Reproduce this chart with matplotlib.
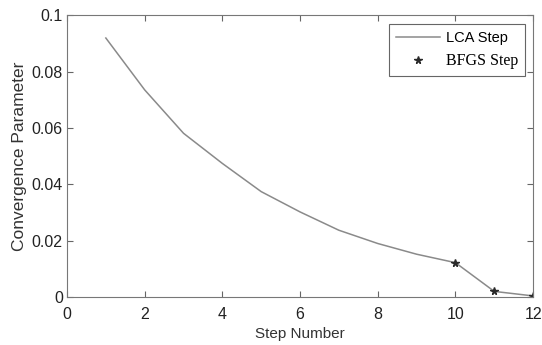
import matplotlib.pyplot as plt

steps = [1, 2, 3, 4, 5, 6, 7, 8, 9, 10, 11, 12]
conv = [0.0919, 0.0735, 0.0581, 0.0474, 0.0374, 0.0302, 0.0237, 0.019, 0.0152, 0.0122, 0.002, 0.0004]
bfgs_steps = [10, 11, 12]
bfgs_conv = [0.0122, 0.002, 0.0004]

plt.rcParams['font.family'] = ['Liberation Sans', 'DejaVu Sans']

fig = plt.figure(figsize=(5.42, 3.45), dpi=100)
ax = fig.add_axes([0.1236, 0.139, 0.860, 0.817])
ax.plot(steps, conv, color='#8a8a8a', lw=1.1, label='LCA Step')
ax.plot(bfgs_steps, bfgs_conv, ls='none', marker='*', color='#2a2a2a', ms=5.5, label='BFGS Step')

ax.set_xlim(0, 12)
ax.set_ylim(0, 0.1)
ax.set_xticks(range(0, 13, 2))
ax.set_yticks([0, 0.02, 0.04, 0.06, 0.08, 0.1])
ax.set_yticklabels(['0', '0.02', '0.04', '0.06', '0.08', '0.1'])
ax.tick_params(direction='in', top=True, right=True, labelsize=11.5, colors='#666666',
               labelcolor='#222222', length=4, pad=3)
ax.tick_params(axis='x', pad=7)
for s in ax.spines.values():
    s.set_color('#777777')
ax.set_xlabel('Step Number', fontsize=11, labelpad=4, color='#333333')
ax.set_ylabel('Convergence Parameter', fontsize=12.5, labelpad=3, color='#333333')

leg = ax.legend(loc='upper right', bbox_to_anchor=(0.983, 0.968), borderaxespad=0, fancybox=False,
                framealpha=1, edgecolor='#666666', fontsize=10.5, handlelength=3, handletextpad=0.4,
                borderpad=0.5, labelspacing=0.5)
leg.get_texts()[1].set_family('Liberation Serif')
leg.get_texts()[1].set_fontsize(11.5)
leg.get_frame().set_linewidth(0.8)

plt.savefig('out.png', dpi=100)
